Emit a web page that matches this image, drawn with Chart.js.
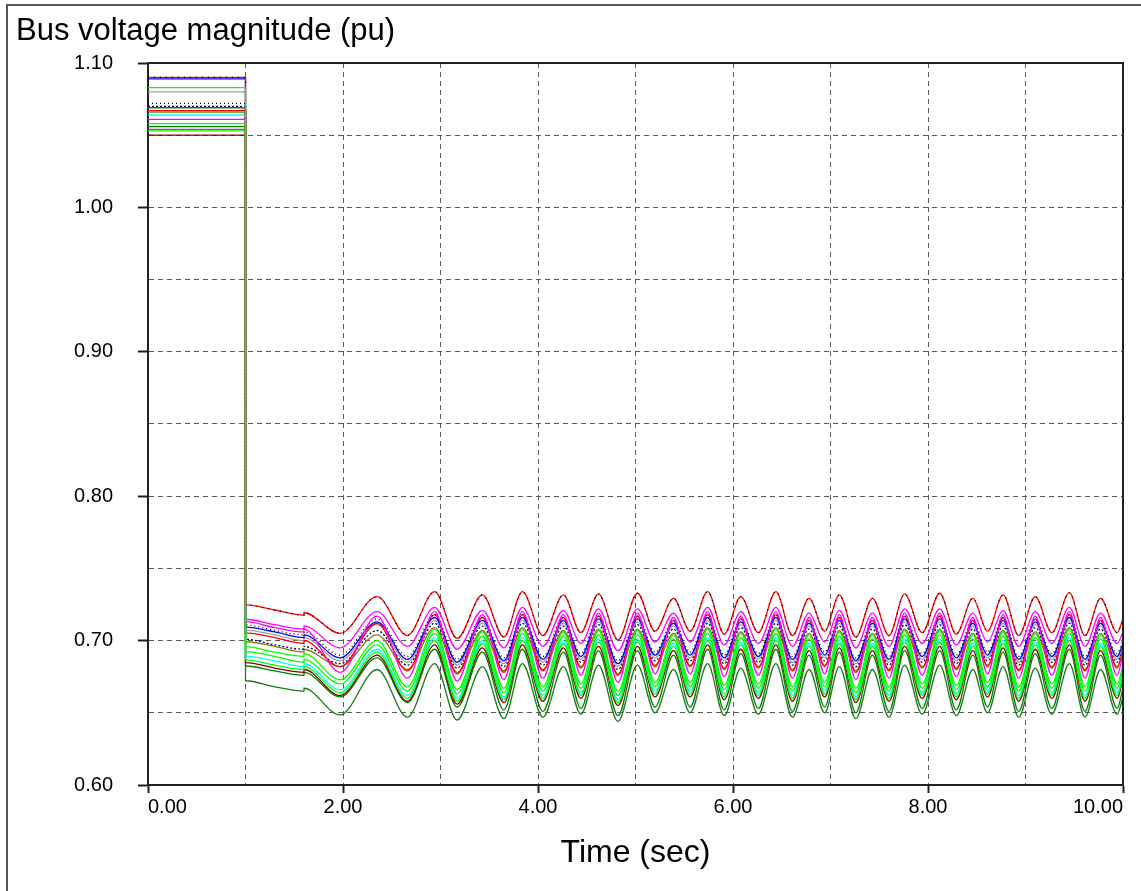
<!DOCTYPE html>
<html>
<head>
<meta charset="utf-8">
<script src="https://cdn.jsdelivr.net/npm/chart.js@4"></script>
<style>
  html, body { margin: 0; padding: 0; background: #fff; }
  canvas { display: block; }
</style>
</head>
<body>
<canvas id="chart" width="1141" height="891"></canvas>
<script>
// time points (sec): pre-fault, fault at 1.0, second event at 1.6, then swing peaks / troughs
const times = [0, 1, 1, 1.3, 1.6, 1.6, 1.97,
  2.35, 2.66, 2.94, 3.17, 3.43, 3.65, 3.84, 4.05, 4.26, 4.44,
  4.62, 4.82, 5.02, 5.2, 5.39, 5.56, 5.74, 5.91, 6.08, 6.26,
  6.44, 6.61, 6.78, 6.94, 7.09, 7.26, 7.43, 7.6, 7.76, 7.94,
  8.12, 8.29, 8.46, 8.61, 8.77, 8.93, 9.1, 9.27, 9.45, 9.61,
  9.77, 9.94, 10];

// bus voltages (pu)
const bus01 = [1.090, 1.090, 0.7247, 0.7212, 0.7177, 0.7193, 0.7050,
  0.7304, 0.7035, 0.7339, 0.7015, 0.7316, 0.7025, 0.7339, 0.7035, 0.7316, 0.7055,
  0.7323, 0.7005, 0.7328, 0.7065, 0.7293, 0.7065, 0.7339, 0.7045, 0.7304, 0.7055,
  0.7339, 0.7035, 0.7293, 0.7065, 0.7316, 0.7025, 0.7293, 0.7035, 0.7323, 0.7055,
  0.7328, 0.7045, 0.7293, 0.7065, 0.7316, 0.7035, 0.7304, 0.7055, 0.7332, 0.7035,
  0.7293, 0.7055, 0.7150];
const bus02 = [1.061, 1.061, 0.7148, 0.711, 0.708, 0.710, 0.695,
  0.720, 0.696, 0.723, 0.694, 0.721, 0.695, 0.723, 0.696, 0.721, 0.698,
  0.722, 0.693, 0.722, 0.699, 0.719, 0.699, 0.723, 0.697, 0.720, 0.698,
  0.723, 0.696, 0.719, 0.699, 0.721, 0.695, 0.719, 0.696, 0.722, 0.698,
  0.722, 0.697, 0.719, 0.699, 0.721, 0.696, 0.720, 0.698, 0.723, 0.696,
  0.719, 0.698, 0.706];
const bus03 = [1.054, 1.054, 0.7131, 0.709, 0.706, 0.708, 0.678,
  0.717, 0.674, 0.720, 0.672, 0.718, 0.673, 0.720, 0.674, 0.718, 0.676,
  0.719, 0.671, 0.719, 0.677, 0.716, 0.677, 0.720, 0.675, 0.717, 0.676,
  0.720, 0.674, 0.716, 0.677, 0.718, 0.673, 0.716, 0.674, 0.719, 0.676,
  0.719, 0.675, 0.716, 0.677, 0.718, 0.674, 0.717, 0.676, 0.720, 0.674,
  0.716, 0.676, 0.691];
const bus04 = [1.072, 1.072, 0.7108, 0.707, 0.704, 0.706, 0.690,
  0.715, 0.689, 0.718, 0.687, 0.716, 0.688, 0.718, 0.689, 0.716, 0.691,
  0.717, 0.686, 0.717, 0.692, 0.714, 0.692, 0.718, 0.690, 0.715, 0.691,
  0.718, 0.689, 0.714, 0.692, 0.716, 0.688, 0.714, 0.689, 0.717, 0.691,
  0.717, 0.690, 0.714, 0.692, 0.716, 0.689, 0.715, 0.691, 0.718, 0.689,
  0.714, 0.691, 0.700];
const bus05 = [1.089, 1.089, 0.7094, 0.706, 0.702, 0.704, 0.688,
  0.713, 0.687, 0.716, 0.685, 0.714, 0.686, 0.716, 0.687, 0.714, 0.689,
  0.715, 0.684, 0.715, 0.690, 0.712, 0.690, 0.716, 0.688, 0.713, 0.689,
  0.716, 0.687, 0.712, 0.690, 0.714, 0.686, 0.712, 0.687, 0.715, 0.689,
  0.715, 0.688, 0.712, 0.690, 0.714, 0.687, 0.713, 0.689, 0.716, 0.687,
  0.712, 0.689, 0.698];
const bus06 = [1.080, 1.080, 0.7073, 0.704, 0.700, 0.702, 0.686,
  0.711, 0.685, 0.714, 0.683, 0.712, 0.684, 0.714, 0.685, 0.712, 0.687,
  0.713, 0.682, 0.713, 0.688, 0.710, 0.688, 0.714, 0.686, 0.711, 0.687,
  0.714, 0.685, 0.710, 0.688, 0.712, 0.684, 0.710, 0.685, 0.713, 0.687,
  0.713, 0.686, 0.710, 0.688, 0.712, 0.685, 0.711, 0.687, 0.714, 0.685,
  0.710, 0.687, 0.696];
const bus07 = [1.067, 1.067, 0.7053, 0.702, 0.698, 0.700, 0.682,
  0.712, 0.679, 0.718, 0.677, 0.716, 0.678, 0.718, 0.679, 0.716, 0.681,
  0.717, 0.676, 0.717, 0.682, 0.714, 0.682, 0.718, 0.680, 0.715, 0.681,
  0.718, 0.679, 0.714, 0.682, 0.716, 0.678, 0.714, 0.679, 0.717, 0.681,
  0.717, 0.680, 0.714, 0.682, 0.716, 0.679, 0.715, 0.681, 0.718, 0.679,
  0.714, 0.681, 0.694];
const bus08 = [1.070, 1.070, 0.7009, 0.697, 0.694, 0.696, 0.684,
  0.707, 0.683, 0.712, 0.681, 0.710, 0.682, 0.712, 0.683, 0.710, 0.685,
  0.711, 0.680, 0.711, 0.686, 0.708, 0.686, 0.712, 0.684, 0.709, 0.685,
  0.712, 0.683, 0.708, 0.686, 0.710, 0.682, 0.708, 0.683, 0.711, 0.685,
  0.711, 0.684, 0.708, 0.686, 0.710, 0.683, 0.709, 0.685, 0.712, 0.683,
  0.708, 0.685, 0.694];
const bus09 = [1.066, 1.066, 0.6992, 0.696, 0.692, 0.694, 0.682,
  0.704, 0.680, 0.709, 0.678, 0.707, 0.679, 0.709, 0.680, 0.707, 0.682,
  0.708, 0.677, 0.708, 0.683, 0.705, 0.683, 0.709, 0.681, 0.706, 0.682,
  0.709, 0.680, 0.705, 0.683, 0.707, 0.679, 0.705, 0.680, 0.708, 0.682,
  0.708, 0.681, 0.705, 0.683, 0.707, 0.680, 0.706, 0.682, 0.709, 0.680,
  0.705, 0.682, 0.691];
const bus10 = [1.058, 1.058, 0.6958, 0.692, 0.689, 0.691, 0.673,
  0.700, 0.668, 0.708, 0.666, 0.706, 0.667, 0.708, 0.668, 0.706, 0.670,
  0.707, 0.665, 0.707, 0.671, 0.704, 0.671, 0.708, 0.669, 0.705, 0.670,
  0.708, 0.668, 0.704, 0.671, 0.706, 0.667, 0.704, 0.668, 0.707, 0.670,
  0.707, 0.669, 0.704, 0.671, 0.706, 0.668, 0.705, 0.670, 0.708, 0.668,
  0.704, 0.670, 0.683];
const bus11 = [1.053, 1.053, 0.6923, 0.689, 0.685, 0.687, 0.670,
  0.697, 0.665, 0.705, 0.663, 0.703, 0.664, 0.705, 0.665, 0.703, 0.667,
  0.704, 0.662, 0.704, 0.668, 0.701, 0.668, 0.705, 0.666, 0.702, 0.667,
  0.705, 0.665, 0.701, 0.668, 0.703, 0.664, 0.701, 0.665, 0.704, 0.667,
  0.704, 0.666, 0.701, 0.668, 0.703, 0.665, 0.702, 0.667, 0.705, 0.665,
  0.701, 0.667, 0.680];
const bus12 = [1.064, 1.064, 0.6893, 0.686, 0.682, 0.684, 0.666,
  0.694, 0.662, 0.702, 0.660, 0.700, 0.661, 0.702, 0.662, 0.700, 0.664,
  0.701, 0.659, 0.701, 0.665, 0.698, 0.665, 0.702, 0.663, 0.699, 0.664,
  0.702, 0.662, 0.698, 0.665, 0.700, 0.661, 0.698, 0.662, 0.701, 0.664,
  0.701, 0.663, 0.698, 0.665, 0.700, 0.662, 0.699, 0.664, 0.702, 0.662,
  0.698, 0.664, 0.677];
const bus13 = [1.083, 1.083, 0.6866, 0.683, 0.680, 0.682, 0.664,
  0.692, 0.660, 0.700, 0.658, 0.698, 0.659, 0.700, 0.660, 0.698, 0.662,
  0.699, 0.657, 0.699, 0.663, 0.696, 0.663, 0.700, 0.661, 0.697, 0.662,
  0.700, 0.660, 0.696, 0.663, 0.698, 0.659, 0.696, 0.660, 0.699, 0.662,
  0.699, 0.661, 0.696, 0.663, 0.698, 0.660, 0.697, 0.662, 0.700, 0.660,
  0.696, 0.662, 0.675];
const bus14 = [1.050, 1.050, 0.6847, 0.681, 0.678, 0.680, 0.662,
  0.690, 0.658, 0.697, 0.656, 0.695, 0.657, 0.697, 0.658, 0.695, 0.660,
  0.696, 0.655, 0.696, 0.661, 0.693, 0.661, 0.697, 0.659, 0.694, 0.660,
  0.697, 0.658, 0.693, 0.661, 0.695, 0.657, 0.693, 0.658, 0.696, 0.660,
  0.696, 0.659, 0.693, 0.661, 0.695, 0.658, 0.694, 0.660, 0.697, 0.658,
  0.693, 0.660, 0.673];
const bus15 = [1.056, 1.056, 0.6824, 0.679, 0.676, 0.678, 0.661,
  0.688, 0.657, 0.694, 0.654, 0.692, 0.652, 0.694, 0.651, 0.692, 0.653,
  0.693, 0.648, 0.693, 0.654, 0.690, 0.654, 0.694, 0.652, 0.691, 0.653,
  0.694, 0.651, 0.690, 0.654, 0.692, 0.650, 0.690, 0.651, 0.693, 0.653,
  0.693, 0.652, 0.690, 0.654, 0.692, 0.651, 0.691, 0.653, 0.694, 0.651,
  0.690, 0.653, 0.667];
const bus16 = [1.069, 1.069, 0.6722, 0.668, 0.665, 0.667, 0.6485,
  0.680, 0.647, 0.684, 0.645, 0.682, 0.646, 0.684, 0.647, 0.682, 0.649,
  0.683, 0.644, 0.683, 0.650, 0.680, 0.650, 0.684, 0.648, 0.681, 0.649,
  0.684, 0.647, 0.680, 0.650, 0.682, 0.646, 0.680, 0.647, 0.683, 0.649,
  0.683, 0.648, 0.680, 0.650, 0.682, 0.647, 0.681, 0.649, 0.684, 0.647,
  0.680, 0.649, 0.661];

const FONT = "'Liberation Sans', Arial, sans-serif";

const toPoints = (vals) => vals.map((v, i) => ({ x: times[i], y: v }));

// first entry is drawn on top
const series = [
  { data: bus13, color: "#00ff00" },
  { data: bus01, color: "#000000", dash: [1, 5] },
  { data: bus01, color: "#ff0000" },
  { data: bus10, color: "#00ff00" },
  { data: bus11, color: "#00ff00" },
  { data: bus02, color: "#ff00ff" },
  { data: bus03, color: "#ff00ff" },
  { data: bus04, color: "#000000", dash: [1, 3] },
  { data: bus05, color: "#0000ff" },
  { data: bus07, color: "#ff0000" },
  { data: bus08, color: "#000080", dash: [2, 2] },
  { data: bus09, color: "#808000" },
  { data: bus06, color: "#a0a0a0" },
  { data: bus12, color: "#00ffff" },
  { data: bus14, color: "#800000" },
  { data: bus15, color: "#008000" },
  { data: bus16, color: "#1a7a1a" },
];

const datasets = series.map((s) => ({
  data: toPoints(s.data),
  borderColor: s.color,
  borderWidth: 1.3,
  borderDash: s.dash || [],
  pointRadius: 0,
  fill: false,
  cubicInterpolationMode: "monotone",
}));

// frame round the plot and the window edge
const framePlugin = {
  id: "frame",
  afterDraw(chart) {
    const { ctx, chartArea: a } = chart;
    ctx.save();
    ctx.strokeStyle = "#222";
    ctx.lineWidth = 2;
    ctx.beginPath();
    ctx.moveTo(a.left, a.top);
    ctx.lineTo(a.right, a.top);
    ctx.lineTo(a.right, a.bottom);
    ctx.stroke();
    ctx.strokeStyle = "#555";
    ctx.beginPath();
    ctx.moveTo(7, 891);
    ctx.lineTo(7, 5);
    ctx.lineTo(1141, 5);
    ctx.stroke();
    ctx.restore();
  },
};

const isLabelY = (v) => Math.round(v * 100) % 10 === 0;
const isLabelX = (v) => Math.round(v) % 2 === 0;

new Chart(document.getElementById("chart"), {
  type: "line",
  data: { datasets },
  options: {
    responsive: false,
    animation: false,
    layout: { padding: { left: 16, right: 18, top: 0, bottom: 0 } },
    plugins: {
      legend: { display: false },
      tooltip: { enabled: false },
      title: {
        display: true,
        text: "Bus voltage magnitude (pu)",
        align: "start",
        color: "#000",
        font: { family: FONT, size: 31, weight: "normal" },
        padding: { top: 13, bottom: 12.8 },
      },
    },
    scales: {
      x: {
        type: "linear",
        min: 0,
        max: 10,
        afterFit: (scale) => { scale.height = 106; },
        ticks: {
          stepSize: 1,
          autoSkip: false,
          maxRotation: 0,
          align: "inner",
          padding: 2,
          color: "#000",
          font: { family: FONT, size: 20 },
          callback: (v) => (isLabelX(v) ? v.toFixed(2) : ""),
        },
        grid: {
          color: "#5a5a5a",
          lineWidth: 1,
          tickLength: 8,
          tickWidth: 2,
          tickColor: (c) => (c.tick && isLabelX(c.tick.value) ? "#222" : "rgba(0,0,0,0)"),
        },
        border: { color: "#222", width: 2, dash: [5, 4] },
        title: {
          display: true,
          text: "Time (sec)",
          color: "#000",
          font: { family: FONT, size: 32 },
          padding: { top: 4, bottom: 19 },
        },
      },
      y: {
        type: "linear",
        min: 0.6,
        max: 1.1,
        afterFit: (scale) => { scale.width = 132; },
        ticks: {
          stepSize: 0.05,
          autoSkip: false,
          padding: 25,
          color: "#000",
          font: { family: FONT, size: 20 },
          callback: (v) => (isLabelY(v) ? v.toFixed(2) : ""),
        },
        grid: {
          color: "#5a5a5a",
          lineWidth: 1,
          tickLength: 10,
          tickWidth: 2,
          tickColor: (c) => (c.tick && isLabelY(c.tick.value) ? "#222" : "rgba(0,0,0,0)"),
        },
        border: { color: "#222", width: 2, dash: [5, 4] },
      },
    },
  },
  plugins: [framePlugin],
});
</script>
</body>
</html>
